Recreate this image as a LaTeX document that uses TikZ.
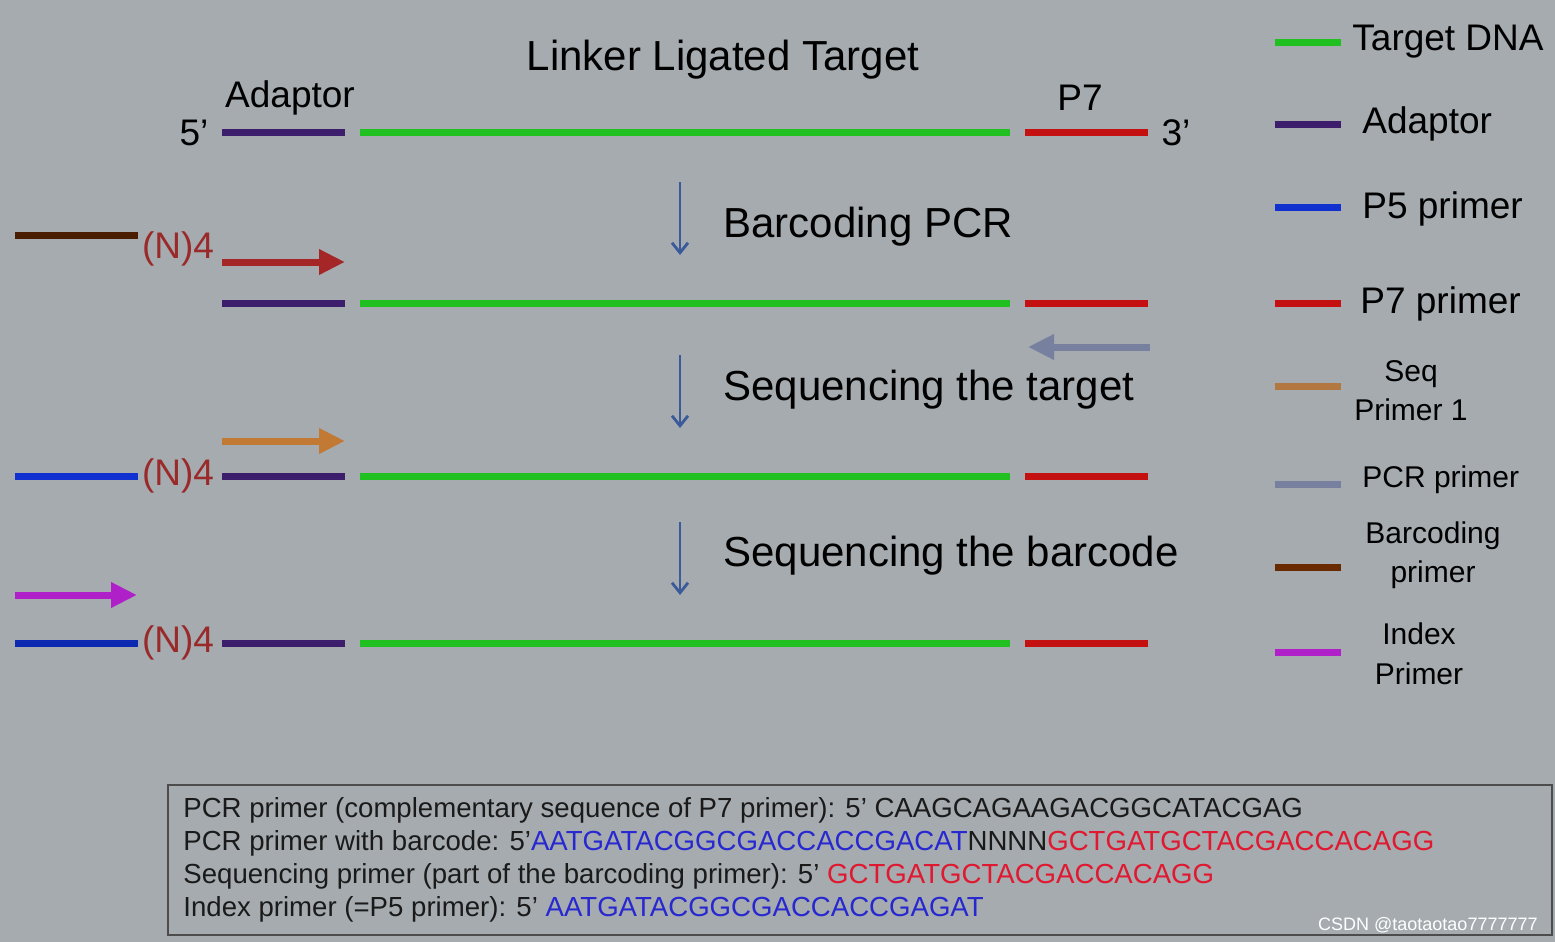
\documentclass[tikz,border=0pt]{standalone}
\usepackage{fontspec}
\setmainfont{Liberation Sans}
\begin{document}
\begin{tikzpicture}[x=0.5pt,y=-0.5pt,
  seg/.style={line width=3.5pt},
  fat/.style={line width=3.5pt,-{Triangle[length=13pt,width=12pt]}},
  down/.style={line width=1.4pt,color=arrowblue,-{Straight Barb[length=5pt,width=8pt]}},
  big/.style={font=\fontsize{21}{24}\selectfont,anchor=west,inner sep=0},
  leg/.style={font=\fontsize{18.5}{20}\selectfont,inner sep=0},
  nn/.style={font=\fontsize{18.5}{20}\selectfont,text=nred,inner sep=0},
  box/.style={font=\fontsize{13.8}{15}\selectfont,anchor=west,inner sep=0,text=txt}]
\usetikzlibrary{arrows.meta}
\definecolor{bg}{HTML}{A5ABAF}
\definecolor{tgreen}{HTML}{20C020}
\definecolor{adpt}{HTML}{3C1E6C}
\definecolor{pfive}{HTML}{1030D0}
\definecolor{pseven}{HTML}{C41010}
\definecolor{seqp}{HTML}{B27840}
\definecolor{pcrp}{HTML}{7880A0}
\definecolor{barp}{HTML}{6A2A00}
\definecolor{idxp}{HTML}{B020C8}
\definecolor{arrowblue}{HTML}{3A5A9A}
\definecolor{nred}{HTML}{9A2A2A}
\definecolor{txt}{HTML}{1A1A1A}
\definecolor{sblue}{HTML}{2828D0}
\definecolor{sred}{HTML}{E01830}
\fill[bg] (0,0) rectangle (1555,942);
\useasboundingbox (0,0) rectangle (1555,942);
% title
\node[font=\fontsize{21}{24}\selectfont,inner sep=0] (title) at (723,60) {Linker Ligated Target};
\node[leg] (adl) at (290,98) {Adaptor};
\node[leg] (p7l) at (1080,98) {P7};
\node[leg] (five) at (194,133) {5'};
\node[leg] (three) at (1176,133) {3'};
% rows
\foreach \y/\n in {132/a,303/b,476/c,643/d}{
  \draw[seg,adpt] (222,\y) coordinate (ad\n) -- (345,\y);
  \draw[seg,tgreen] (360,\y) coordinate (tg\n) -- (1010,\y);
  \draw[seg,pseven] (1025,\y) coordinate (rd\n) -- (1148,\y);
}
\draw[seg,barp!70!black] (15,235) -- (138,235);
\draw[seg,pfive] (15,476) -- (138,476);
\draw[seg,pfive!85!black] (15,643) -- (138,643);
\node[nn] (n1) at (178,249) {(N)4};
\node[nn] (n2) at (178,476) {(N)4};
\node[nn] (n3) at (178,643) {(N)4};
% primer arrows
\coordinate (a1s) at (222,262); \coordinate (a1e) at (345,262);
\draw[fat,color=nred!90!red] (a1s) -- (a1e);
\coordinate (a2s) at (1150,347); \coordinate (a2e) at (1028,347);
\draw[fat,color=pcrp] (a2s) -- (a2e);
\coordinate (a3s) at (222,441); \coordinate (a3e) at (345,441);
\draw[fat,color=seqp!80!orange] (a3s) -- (a3e);
\coordinate (a4s) at (15,595); \coordinate (a4e) at (137,595);
\draw[fat,color=idxp] (a4s) -- (a4e);
% step arrows
\coordinate (d1s) at (680,182); \coordinate (d1e) at (680,255);
\coordinate (d2s) at (680,355); \coordinate (d2e) at (680,428);
\coordinate (d3s) at (680,522); \coordinate (d3e) at (680,595);
\draw[down] (d1s) -- (d1e);
\draw[down] (d2s) -- (d2e);
\draw[down] (d3s) -- (d3e);
\node[big] (s1) at (723,227) {Barcoding PCR};
\node[big] (s2) at (723,390) {Sequencing the target};
\node[big] (s3) at (723,556) {Sequencing the barcode};
% legend
\foreach \y/\c in {42/tgreen,124/adpt,207/pfive,303/pseven,386/seqp,484/pcrp,567/barp,652/idxp}
  \draw[seg,\c] (1275,\y) -- (1341,\y);
\node[leg,anchor=west] (l1) at (1352,42) {Target DNA};
\node[leg,anchor=west] (l2) at (1362,124) {Adaptor};
\node[leg,anchor=west] (l3) at (1362,209) {P5 primer};
\node[leg,anchor=west] (l4) at (1360,304) {P7 primer};
\node[leg,align=center,font=\fontsize{15}{19.5}\selectfont] (l5) at (1411,391) {Seq\\Primer 1};
\node[leg,anchor=west,font=\fontsize{15}{18}\selectfont] (l6) at (1362,480) {PCR primer};
\node[leg,align=center,font=\fontsize{15}{19.5}\selectfont] (l7) at (1433,555) {Barcoding\\primer};
\node[leg,align=center,font=\fontsize{15}{20}\selectfont] (l8) at (1419,654) {Index\\Primer};
% box
\draw[line width=0.8pt,color=gray!60!black] (168,785) rectangle (1552,935);
\node[box] (t1) at (183,810) {PCR primer (complementary sequence of P7 primer): 5' CAAGCAGAAGACGGCATACGAG};
\node[box] (t2) at (183,843) {PCR primer with barcode: 5'\textcolor{sblue}{AATGATACGGCGACCACCGACAT}NNNN\textcolor{sred}{GCTGATGCTACGACCACAGG}};
\node[box] (t3) at (183,876) {Sequencing primer (part of the barcoding primer): 5' \textcolor{sred}{GCTGATGCTACGACCACAGG}};
\node[box] (t4) at (183,909) {Index primer (=P5 primer): 5' \textcolor{sblue}{AATGATACGGCGACCACCGAGAT}};
\node[font=\fontsize{9}{10}\selectfont,text=white,anchor=east,inner sep=0] (wm) at (1538,925) {CSDN @taotaotao7777777};
\end{tikzpicture}
\end{document}
